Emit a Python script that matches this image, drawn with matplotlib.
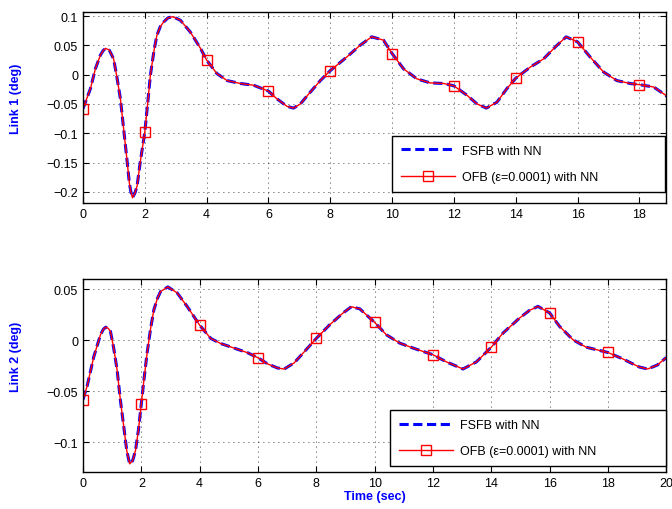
import numpy as np
import matplotlib
matplotlib.use('Agg')
import matplotlib.pyplot as plt

# Link 1 response, time in sec, angle in deg
t1 = [0, 0.24, 0.4, 0.56, 0.65, 0.73, 0.85, 0.99, 1.1, 1.21, 1.32, 1.42, 1.5,
      1.55, 1.6, 1.68, 1.75, 1.85, 2.0, 2.1, 2.18, 2.3, 2.39, 2.5, 2.61, 2.75,
      2.9, 3.15, 3.47, 3.8, 4.0, 4.33, 4.66, 5.09, 5.52, 6.0, 6.27, 6.6, 6.81,
      7.03, 7.35, 7.68, 8.0, 8.53, 8.96, 9.34, 9.72, 10.0, 10.37, 10.8, 11.23,
      11.67, 12.0, 12.42, 12.75, 13.05, 13.39, 13.71, 14.0, 14.47, 14.9, 15.33,
      15.63, 16.0, 16.41, 16.84, 17.27, 17.7, 18.0, 18.46, 18.85, 19.0]
fsfb1 = [-0.058, -0.024, 0.01, 0.033, 0.041, 0.045, 0.042, 0.027, -0.005,
         -0.041, -0.095, -0.144, -0.185, -0.2, -0.21, -0.202, -0.19, -0.15,
         -0.098, -0.045, -0.001, 0.042, 0.067, 0.082, 0.09, 0.097, 0.099, 0.093,
         0.073, 0.045, 0.025, 0.002, -0.01, -0.015, -0.018, -0.028, -0.041,
         -0.054, -0.057, -0.05, -0.03, -0.01, 0.007, 0.03, 0.05, 0.0646, 0.059,
         0.036, 0.010, -0.007, -0.014, -0.015, -0.019, -0.035, -0.05, -0.057,
         -0.047, -0.024, -0.006, 0.013, 0.027, 0.05, 0.0646, 0.056, 0.03,
         0.0046, -0.01, -0.015, -0.017, -0.021, -0.035, -0.042]
ofb1 = list(fsfb1)

# Link 2 response
t2 = [0, 0.14, 0.37, 0.6, 0.7, 0.78, 0.86, 0.94, 1.05, 1.17, 1.28, 1.4, 1.5,
      1.6, 1.7, 1.8, 1.9, 2.0, 2.1, 2.2, 2.32, 2.43, 2.55, 2.66, 2.91, 3.23,
      3.58, 4.0, 4.38, 4.72, 5.18, 5.64, 6.0, 6.33, 6.67, 6.9, 7.24, 7.59, 8.0,
      8.46, 8.92, 9.2, 9.49, 10.0, 10.4, 10.86, 11.32, 12.0, 12.46, 13.03,
      13.49, 14.0, 14.4, 14.97, 15.31, 15.6, 16.0, 16.34, 16.8, 17.25, 18.0,
      18.5, 19.07, 19.36, 19.7, 20.0]
fsfb2 = [-0.058, -0.045, -0.016, 0.0056, 0.011, 0.013, 0.012, 0.009, -0.007,
         -0.029, -0.058, -0.085, -0.108, -0.121, -0.118, -0.108, -0.088, -0.062,
         -0.036, -0.012, 0.012, 0.030, 0.041, 0.048, 0.0525, 0.0466, 0.033,
         0.015, 0.002, -0.003, -0.0075, -0.012, -0.017, -0.023, -0.027, -0.028,
         -0.022, -0.011, 0.002, 0.0154, 0.027, 0.033, 0.031, 0.0177, 0.0056,
         -0.0026, -0.0075, -0.014, -0.021, -0.028, -0.021, -0.0066, 0.0072,
         0.022, 0.0295, 0.0334, 0.027, 0.0138, 0.0007, -0.0066, -0.0118, -0.018,
         -0.026, -0.028, -0.024, -0.0167]
ofb2 = list(fsfb2)

marker_times = [0, 2, 4, 6, 8, 10, 12, 14, 16, 18]
xticks = [0, 2, 4, 6, 8, 10, 12, 14, 16, 18, 20]
yticks1 = [-0.2, -0.15, -0.1, -0.05, 0, 0.05, 0.1]
ylabels1 = ['\u22120.2', '\u22120.15', '\u22120.1', '\u22120.05', '0', '0.05', '0.1']
yticks2 = [-0.1, -0.05, 0, 0.05]
ylabels2 = ['\u22120.1', '\u22120.05', '0', '0.05']

plt.rcParams['font.family'] = ['Liberation Sans', 'DejaVu Sans']
plt.rcParams['font.size'] = 9

fig = plt.figure(figsize=(6.72, 5.1), dpi=100)
ax1 = fig.add_axes([0.1235, 0.6, 0.868, 0.3745])
ax2 = fig.add_axes([0.1235, 0.0725, 0.868, 0.378])


def draw(ax, t, fsfb, ofb, yt, yl, xlim, ylim, ylabel, leg_box):
    idx = [i for i, v in enumerate(t) if v in marker_times]
    ax.plot(t, fsfb, color='blue', lw=2.2, dashes=(3, 1.5), label='FSFB with NN')
    ax.plot(t, ofb, color='red', lw=1, marker='s', markevery=idx, ms=7.5,
            mfc='none', mec='red', mew=1, label='OFB (\u03b5=0.0001) with NN')
    ax.set_xticks(xticks)
    ax.set_yticks(yt)
    ax.set_yticklabels(yl)
    ax.set_xlim(*xlim)
    ax.set_ylim(*ylim)
    ax.grid(True, color='black', ls=(0, (1, 5)), lw=0.6)
    ax.tick_params(direction='in', top=True, right=True, length=4, width=0.8,
                   labelsize=9)
    for s in ax.spines.values():
        s.set_linewidth(1)
    ax.set_ylabel(ylabel, color='blue', fontweight='bold', fontsize=9)
    leg = ax.legend(loc='lower left', bbox_to_anchor=leg_box, mode='expand',
                    borderaxespad=0, fancybox=False, framealpha=1,
                    edgecolor='black', handlelength=4.3, handletextpad=0.55,
                    labelspacing=1.15, borderpad=0.7, fontsize=9)
    leg.get_frame().set_linewidth(1)


draw(ax1, t1, fsfb1, ofb1, yticks1, ylabels1, (0, 18.87), (-0.219, 0.107),
     'Link 1 (deg)', (0.53, 0.058, 0.468, 0.29))
draw(ax2, t2, fsfb2, ofb2, yticks2, ylabels2, (0, 20), (-0.129, 0.06),
     'Link 2 (deg)', (0.527, 0.031, 0.473, 0.3))
ax1.yaxis.set_label_coords(-0.104, 0.55)
ax2.yaxis.set_label_coords(-0.104, 0.6)
ax2.set_xlabel('Time (sec)', color='blue', fontweight='bold', fontsize=9,
               labelpad=1)

fig.savefig('out.png', dpi=100)
